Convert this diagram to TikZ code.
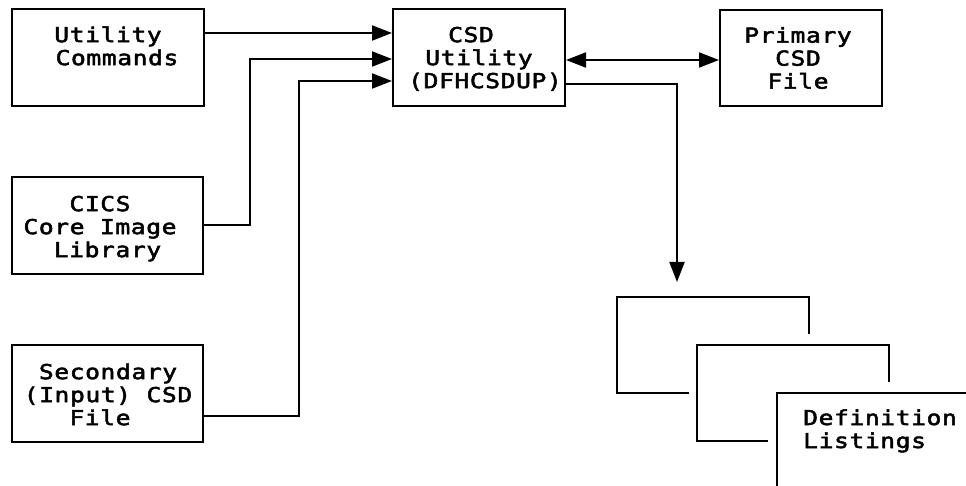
\documentclass[tikz,border=0pt]{standalone}
\usepackage{fontspec}
\newfontfamily\ibmfont[FakeStretch=1.2, LetterSpace=3, FakeBold=2.5]{DejaVu Sans Mono}
\usetikzlibrary{arrows.meta}
\tikzset{
  every node/.style={font={\ibmfont\fontsize{20.5}{23}\selectfont}},
  box/.style={draw, line width=2pt, inner sep=0pt},
  txt/.style={align=center, inner sep=0pt},
  conn/.style={line width=2pt},
  arr/.style={conn, -{Triangle[length=20pt,width=15pt]}},
  arrtwo/.style={conn, {Triangle[length=20pt,width=15pt]}-{Triangle[length=20pt,width=15pt]}},
  page/.style={line width=2pt},
}
\begin{document}
\begin{tikzpicture}[x=1pt,y=-1pt]
\useasboundingbox (0,0) rectangle (966,486);
\node[box, minimum width=192pt, minimum height=97pt] (uc) at (108,57.5) {};
\node[box, minimum width=172pt, minimum height=97pt] (csd) at (479,57.5) {};
\node[box, minimum width=162pt, minimum height=96pt] (pri) at (801,58) {};
\node[box, minimum width=191pt, minimum height=97pt] (cics) at (107.5,225.5) {};
\node[box, minimum width=191pt, minimum height=97pt] (sec) at (107.5,393.5) {};

\node[txt] (uct) at ([yshift=-3pt]uc.center) {\strut Utility\\\hspace*{18pt}Commands\\\strut};
\node[txt] (csdt) at ([yshift=-3pt]csd.center) {\strut CSD\hspace*{16pt}\\Utility\\\hspace*{12pt}(DFHCSDUP)\strut};
\node[txt] (prit) at ([xshift=-3pt,yshift=-3pt]pri.center) {\strut Primary\\CSD\\File\strut};
\node[txt] (cicst) at ([xshift=-7.5pt,yshift=-4pt]cics.center) {\strut CICS\\Core Image\\\hspace*{15pt}Library\strut};
\node[txt] (sect) at ([xshift=0.5pt,yshift=-4pt]sec.center) {\strut Secondary\\(Input) CSD\\File\hspace*{16pt}\strut};

\coordinate (y1) at (0,33);
\coordinate (b2) at (250,59);
\coordinate (b3) at (299,81);
\coordinate (s3) at (0,416);
\coordinate (y4) at (0,60);
\coordinate (b5) at (677,84);
\coordinate (tip) at (677,282);

\draw[arr] (uc.east |- y1) -- (csd.west |- y1);
\draw[arr] (cics.east) -| (b2) -- (csd.west |- b2);
\draw[arr] (sec.east |- s3) -| (b3) -- (csd.west |- b3);
\draw[arrtwo] (csd.east |- y4) -- (pri.west |- y4);
\draw[arr] (csd.east |- b5) -- (b5) -- (tip);

% listing pages
\draw[page] (689,393) -- (617,393) -- (617,297) -- (809,297) -- (809,334);
\draw[page] (768,441) -- (697,441) -- (697,345) -- (889,345) -- (889,382);
\draw[page] (777,486) -- (777,393) -- (966,393);
\node[anchor=base west, inner sep=0pt] (def) at (803,425) {Definition};
\node[anchor=base west, inner sep=0pt] (lst) at (803,448) {Listings};
\end{tikzpicture}
\end{document}
